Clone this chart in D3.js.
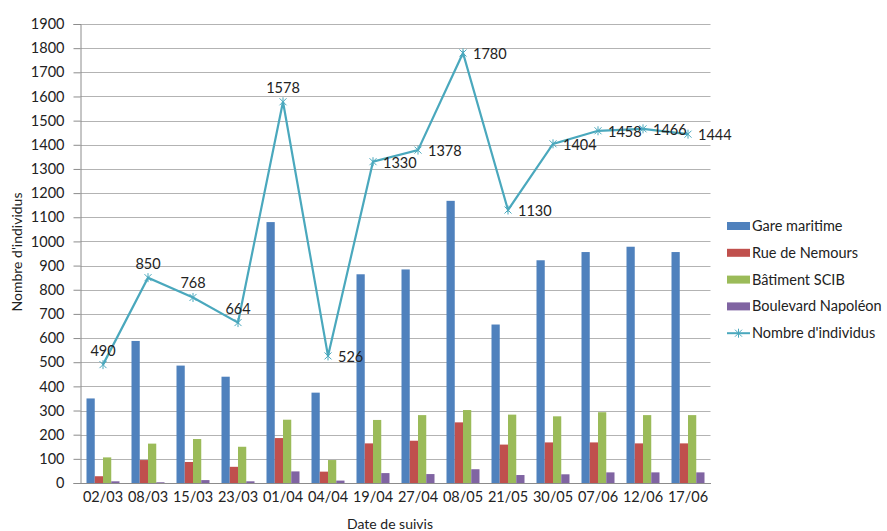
<!DOCTYPE html>
<html>
<head>
<meta charset="utf-8">
<script src="https://cdn.jsdelivr.net/npm/d3@7"></script>
<style>
  body { margin: 0; background: #fff; }
  svg { display: block; font-family: Lato, "Open Sans", sans-serif; }
</style>
</head>
<body>
<svg id="chart" width="887" height="531"></svg>
<script>
// Survey dates
const dates = ["02/03","08/03","15/03","23/03","01/04","04/04","19/04","27/04","08/05","21/05","30/05","07/06","12/06","17/06"];

// Counts per site
const gareMaritime      = [350, 588, 486, 440, 1080, 374, 864, 884, 1168, 656, 922, 956, 978, 956];
const rueDeNemours      = [28, 95, 87, 67, 186, 47, 164, 175, 251, 159, 168, 168, 164, 164];
const batimentSCIB      = [106, 163, 182, 150, 262, 95, 261, 281, 302, 283, 276, 293, 281, 281];
const boulevardNapoleon = [7, 3, 12, 7, 48, 10, 41, 37, 57, 33, 36, 44, 44, 44];

// Total number of individuals
const totalIndividus = [490, 850, 768, 664, 1578, 526, 1330, 1378, 1780, 1130, 1404, 1458, 1466, 1444];

const seriesNames  = ["Gare maritime", "Rue de Nemours", "Bâtiment SCIB", "Boulevard Napoléon"];
const seriesValues = [gareMaritime, rueDeNemours, batimentSCIB, boulevardNapoleon];
const lineName = "Nombre d'individus";
const yTicks = d3.range(0, 2000, 100);

const colors = ["#4f81bd", "#c0504d", "#9bbb59", "#8064a2"];
const lineColor = "#4aa8bd";

const svg = d3.select("#chart");
const plot = { left: 80.5, right: 710.5, top: 24, bottom: 483 };

const x = d3.scaleBand().domain(dates).range([plot.left, plot.right]).padding(0);
const xs = d3.scaleBand().domain(d3.range(4)).range([6, x.bandwidth() - 6]).padding(0);
const y = d3.scaleLinear().domain([0, 1900]).range([plot.bottom, plot.top]);

// Horizontal gridlines
svg.append("g")
  .selectAll("line")
  .data(yTicks.filter(d => d > 0))
  .join("line")
  .attr("x1", plot.left).attr("x2", plot.right)
  .attr("y1", d => Math.round(y(d)) + 0.5).attr("y2", d => Math.round(y(d)) + 0.5)
  .attr("stroke", "#b3b3b3").attr("stroke-width", 1);

// Y axis
const yAxis = svg.append("g")
  .attr("transform", `translate(${plot.left},0)`)
  .call(d3.axisLeft(y).tickValues(yTicks).tickSize(7).tickPadding(9).tickFormat(d3.format("d")));
yAxis.select(".domain").attr("stroke", "#8c8c8c");
yAxis.selectAll(".tick line").attr("stroke", "#8c8c8c");
yAxis.selectAll(".tick text").attr("font-size", 14.5).attr("fill", "#222").attr("font-family", "Lato, sans-serif");

// Grouped bars
const groups = svg.append("g")
  .selectAll("g")
  .data(dates)
  .join("g")
  .attr("transform", d => `translate(${x(d)},0)`);

groups.selectAll("rect")
  .data((d, i) => seriesValues.map((vals, s) => ({ s, v: vals[i] })))
  .join("rect")
  .attr("x", d => xs(d.s))
  .attr("width", xs.bandwidth())
  .attr("y", d => y(d.v))
  .attr("height", d => y(0) - y(d.v))
  .attr("fill", d => colors[d.s]);

// X axis
const xAxis = svg.append("g")
  .attr("transform", `translate(0,${plot.bottom})`)
  .call(d3.axisBottom(x).tickSize(0).tickPadding(9));
xAxis.select(".domain").attr("stroke", "#8c8c8c");
xAxis.selectAll(".tick text").attr("font-size", 14.5).attr("fill", "#222").attr("font-family", "Lato, sans-serif");

// Total line
const cx = d => x(d) + x.bandwidth() / 2;
const lineData = dates.map((d, i) => ({ d, v: totalIndividus[i], i }));
svg.append("path")
  .datum(lineData)
  .attr("fill", "none")
  .attr("stroke", lineColor)
  .attr("stroke-width", 2.2)
  .attr("d", d3.line().x(p => cx(p.d)).y(p => y(p.v)));

// Asterisk markers
function star(g, px, py, r) {
  g.append("path")
    .attr("d", `M${px - r},${py - r}L${px + r},${py + r}M${px - r},${py + r}L${px + r},${py - r}M${px},${py - r - 1}L${px},${py + r + 1}`)
    .attr("stroke", lineColor).attr("stroke-width", 1).attr("fill", "none");
}
const markers = svg.append("g");
lineData.forEach(p => star(markers, cx(p.d), y(p.v), 3.5));

// Value labels: first five above the point, the rest to the right
svg.append("g")
  .selectAll("text")
  .data(lineData)
  .join("text")
  .attr("x", p => p.i < 5 ? cx(p.d) : cx(p.d) + 10)
  .attr("y", p => p.i < 5 ? y(p.v) - 9 : y(p.v) + 6)
  .attr("text-anchor", p => p.i < 5 ? "middle" : "start")
  .attr("font-size", 14.5)
  .attr("fill", "#222")
  .text(p => p.v);

// Axis titles
svg.append("text")
  .attr("transform", "translate(22,252) rotate(-90)")
  .attr("text-anchor", "middle")
  .attr("font-size", 14)
  .attr("fill", "#222")
  .text("Nombre d'individus");

svg.append("text")
  .attr("x", 390).attr("y", 529)
  .attr("text-anchor", "middle")
  .attr("font-size", 14)
  .attr("fill", "#222")
  .text("Date de suivis");

// Legend
const legend = svg.append("g").attr("transform", "translate(727,226)");
seriesNames.forEach((name, i) => {
  const row = legend.append("g").attr("transform", `translate(0,${i * 26.8})`);
  row.append("rect").attr("x", 0).attr("y", -4).attr("width", 23).attr("height", 8).attr("fill", colors[i]);
  row.append("text").attr("x", 25).attr("y", 5).attr("font-size", 14.5).attr("fill", "#222").text(name);
});
const lrow = legend.append("g").attr("transform", `translate(0,${4 * 26.8})`);
lrow.append("line").attr("x1", 0).attr("x2", 23).attr("y1", 0).attr("y2", 0).attr("stroke", lineColor).attr("stroke-width", 2);
star(lrow, 11.5, 0, 3.5);
lrow.append("text").attr("x", 25).attr("y", 5).attr("font-size", 14.5).attr("fill", "#222").text(lineName);
</script>
</body>
</html>
